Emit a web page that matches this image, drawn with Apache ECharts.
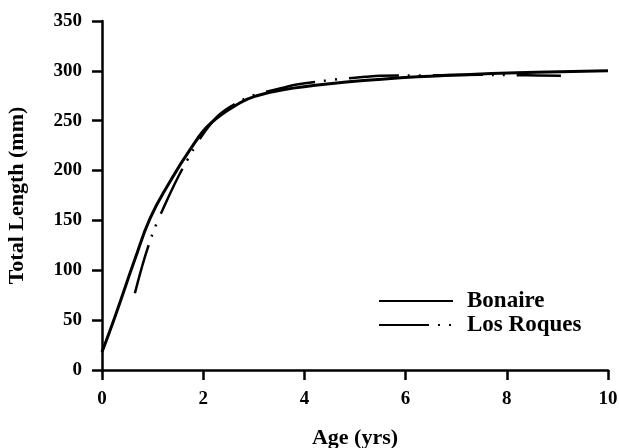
<!DOCTYPE html>
<html>

<head>
    <meta charset="utf-8" />
    <title>Growth curves</title>
    <script src="https://cdn.jsdelivr.net/npm/echarts@6/dist/echarts.min.js"></script>
</head>

<body style="margin:0">
    <div id="main" style="width:619px;height:448px;"></div>
    <script type="text/javascript">
        // values (age in yrs, total length in mm)
        var bonaireAge = [0, 0.26, 0.65, 0.95, 1.31, 1.74, 2.14, 2.73, 3.06, 3.58, 4.5, 5.9, 6.9, 8.2, 10];
        var bonaireLen = [18, 54, 111, 152, 186, 221, 247, 268, 275, 281, 287, 293, 295.5, 298, 300];
        var roquesAge = [0.65, 0.92, 1.21, 1.68, 2.2, 2.6, 3.0, 3.33, 3.58, 3.82, 4.5, 4.8, 5.2, 5.5, 6.5, 7.5, 8.4, 9.07];
        var roquesLen = [77, 125, 162, 210, 250, 266, 275.5, 280, 283, 286, 290.7, 292.3, 294, 295, 295.5, 296, 295.5, 295];
        var seriesNames = ['Bonaire', 'Los Roques'];

        var serif = '"Liberation Serif", "Times New Roman", serif';

        function zip(a, b) {
            var out = [];
            for (var i = 0; i < a.length; i++) {
                out.push([a[i], b[i]]);
            }
            return out;
        }

        var myChart = echarts.init(document.getElementById('main'));

        var option = {
            animation: false,
            backgroundColor: '#fff',
            color: ['#000', '#000'],
            grid: { left: 102, right: 11, top: 21, bottom: 78, containLabel: false, outerBoundsMode: 'none' },
            legend: {
                orient: 'vertical',
                left: 373,
                top: 284,
                itemWidth: 74,
                itemHeight: 12,
                itemGap: 0,
                data: seriesNames,
                itemStyle: { opacity: 0 },
                textStyle: {
                    fontFamily: serif,
                    fontWeight: 'bold',
                    fontSize: 23,
                    lineHeight: 24,
                    color: '#000',
                    padding: [0, 0, 0, 9]
                }
            },
            xAxis: {
                type: 'value',
                min: 0,
                max: 10,
                interval: 2,
                name: 'Age (yrs)',
                nameLocation: 'middle',
                nameGap: 57,
                nameTextStyle: { fontFamily: serif, fontWeight: 'bold', fontSize: 22, color: '#000' },
                axisLine: { show: true, lineStyle: { color: '#000', width: 2.5 } },
                axisTick: { show: true, length: 10, lineStyle: { color: '#000', width: 2.5 } },
                axisLabel: { margin: 20, fontFamily: serif, fontWeight: 'bold', fontSize: 19, color: '#000' },
                splitLine: { show: false }
            },
            yAxis: {
                type: 'value',
                min: 0,
                max: 350,
                interval: 50,
                name: 'Total Length (mm)',
                nameLocation: 'middle',
                nameRotate: 90,
                nameGap: 74,
                nameTextStyle: { fontFamily: serif, fontWeight: 'bold', fontSize: 22, color: '#000' },
                axisLine: { show: true, lineStyle: { color: '#000', width: 2.5 } },
                axisTick: { show: true, length: 10, lineStyle: { color: '#000', width: 2.5 } },
                axisLabel: { margin: 20, fontFamily: serif, fontWeight: 'bold', fontSize: 19, color: '#000' },
                splitLine: { show: false }
            },
            series: [
                {
                    name: seriesNames[0],
                    type: 'line',
                    data: zip(bonaireAge, bonaireLen),
                    smooth: 0.45,
                    symbol: 'none',
                    lineStyle: { color: '#000', width: 3 }
                },
                {
                    name: seriesNames[1],
                    type: 'line',
                    data: zip(roquesAge, roquesLen),
                    smooth: 0.4,
                    symbol: 'none',
                    lineStyle: { color: '#000', width: 2.5, type: [50, 9, 2, 9, 2, 12] }
                }
            ]
        };
        myChart.setOption(option);
    </script>
</body>

</html>
